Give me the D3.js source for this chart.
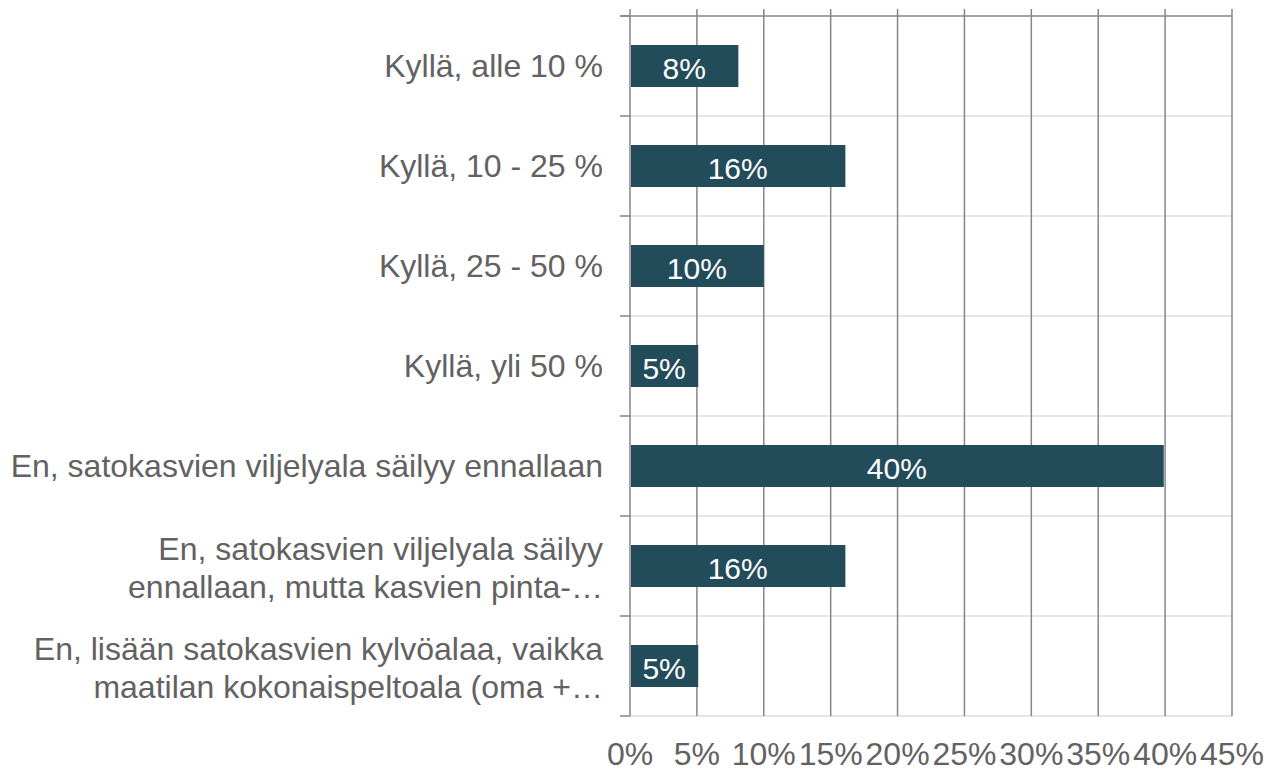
<!DOCTYPE html>
<html>
<head>
<meta charset="utf-8">
<script src="https://cdn.jsdelivr.net/npm/d3@7"></script>
<style>
  body { margin: 0; background: #fff; }
  text { font-family: "Liberation Sans", Arial, sans-serif; }
</style>
</head>
<body>
<div id="chart"></div>
<script>
const categories = [
  ['Kyllä, alle 10 %'],
  ['Kyllä, 10 - 25 %'],
  ['Kyllä, 25 - 50 %'],
  ['Kyllä, yli 50 %'],
  ['En, satokasvien viljelyala säilyy ennallaan'],
  ['En, satokasvien viljelyala säilyy', 'ennallaan, mutta kasvien pinta-…'],
  ['En, lisään satokasvien kylvöalaa, vaikka', 'maatilan kokonaispeltoala (oma +…']
];
const values = [8.1, 16.1, 10.0, 5.1, 39.9, 16.1, 5.1];
const valueLabels = ['8%', '16%', '10%', '5%', '40%', '16%', '5%'];
const xTicks = [0, 5, 10, 15, 20, 25, 30, 35, 40, 45];

const w = 1268;
const h = 771;
const plotLeft = 630;
const plotRight = 1232;
const plotTop = 16;
const plotBottom = 716;

const svg = d3.select('#chart').append('svg').attr('width', w).attr('height', h);

const scaleX = d3.scaleLinear().domain([0, 45]).range([plotLeft, plotRight]);
const scaleY = d3
  .scaleBand()
  .domain(d3.range(categories.length))
  .range([plotTop, plotBottom])
  .paddingInner(0.58)
  .paddingOuter(0.29);
const step = scaleY.step();

// light horizontal lines between categories
svg.append('g')
  .selectAll('line')
  .data(d3.range(1, categories.length + 1))
  .enter()
  .append('line')
  .attr('x1', plotLeft)
  .attr('x2', plotRight)
  .attr('y1', (i) => plotTop + i * step)
  .attr('y2', (i) => plotTop + i * step)
  .attr('stroke', '#e6e6e6')
  .attr('stroke-width', 2);

// left ticks
svg.append('g')
  .selectAll('line')
  .data(d3.range(0, categories.length + 1))
  .enter()
  .append('line')
  .attr('x1', plotLeft - 10)
  .attr('x2', plotLeft)
  .attr('y1', (i) => plotTop + i * step)
  .attr('y2', (i) => plotTop + i * step)
  .attr('stroke', '#868686')
  .attr('stroke-width', 1.5);

// vertical gridlines
svg.append('g')
  .selectAll('line')
  .data(xTicks)
  .enter()
  .append('line')
  .attr('x1', (d) => scaleX(d))
  .attr('x2', (d) => scaleX(d))
  .attr('y1', plotTop - 7)
  .attr('y2', plotBottom)
  .attr('stroke', '#868686')
  .attr('stroke-width', 1.5);

// top axis line
svg.append('line')
  .attr('x1', plotLeft - 10)
  .attr('x2', plotRight)
  .attr('y1', plotTop)
  .attr('y2', plotTop)
  .attr('stroke', '#868686')
  .attr('stroke-width', 1.5);

// bars
svg.append('g')
  .selectAll('rect')
  .data(values)
  .enter()
  .append('rect')
  .attr('x', scaleX(0) + 1)
  .attr('y', (d, i) => scaleY(i))
  .attr('width', (d) => scaleX(d) - scaleX(0) - 1)
  .attr('height', scaleY.bandwidth())
  .attr('fill', '#234c5a');

// value labels
svg.append('g')
  .selectAll('text')
  .data(values)
  .enter()
  .append('text')
  .attr('x', (d) => (scaleX(0) + scaleX(d)) / 2)
  .attr('y', (d, i) => scaleY(i) + scaleY.bandwidth() / 2)
  .attr('dy', '0.43em')
  .attr('text-anchor', 'middle')
  .attr('fill', '#fff')
  .attr('font-size', 30)
  .text((d, i) => valueLabels[i]);

// category labels
const catG = svg.append('g')
  .selectAll('text')
  .data(categories)
  .enter()
  .append('text')
  .attr('text-anchor', 'end')
  .attr('fill', '#626262')
  .attr('font-size', 32);

catG.each(function (lines, i) {
  const cy = scaleY(i) + scaleY.bandwidth() / 2 + (lines.length > 1 ? 2 : 0);
  const lh = 38;
  d3.select(this)
    .selectAll('tspan')
    .data(lines)
    .enter()
    .append('tspan')
    .attr('x', 603)
    .attr('y', (l, j) => cy + (j - (lines.length - 1) / 2) * lh)
    .attr('dy', '0.34em')
    .text((l) => l);
});

// x tick labels
svg.append('g')
  .selectAll('text')
  .data(xTicks)
  .enter()
  .append('text')
  .attr('x', (d) => scaleX(d))
  .attr('y', 765)
  .attr('text-anchor', 'middle')
  .attr('fill', '#626262')
  .attr('font-size', 32)
  .text((d) => d + '%');
</script>
</body>
</html>
